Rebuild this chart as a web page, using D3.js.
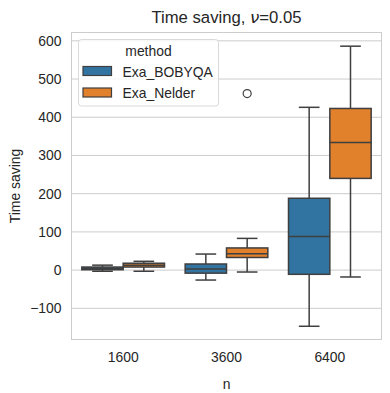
<!DOCTYPE html>
<html>
  <head>
    <meta charset="utf-8">
    <title>Time saving boxplot</title>
    <script src="https://cdn.jsdelivr.net/npm/d3@7"></script>
    <style>
      body { margin: 0; background: #fff; }
      text { font-family: "Liberation Sans", Arial, sans-serif; fill: #262626; }
    </style>
  </head>
  <body>
  <script>

    // categories on x, one box per method inside each
    var categories = ["1600", "3600", "6400"];
    var methods = ["Exa_BOBYQA", "Exa_Nelder"];
    var colors = ["#3274a1", "#e1812c"];

    // box summaries, one value per category
    var whiskerLow  = { "Exa_BOBYQA": [-3, -26, -147], "Exa_Nelder": [-3, -5, -18] };
    var q1          = { "Exa_BOBYQA": [1, -8, -11],    "Exa_Nelder": [8, 33, 240] };
    var median      = { "Exa_BOBYQA": [4, 3, 88],      "Exa_Nelder": [13, 43, 334] };
    var q3          = { "Exa_BOBYQA": [8, 16, 188],    "Exa_Nelder": [18, 58, 423] };
    var whiskerHigh = { "Exa_BOBYQA": [13, 42, 426],   "Exa_Nelder": [23, 83, 586] };

    var outliers = [ { n: "3600", method: "Exa_Nelder", value: 462 } ];

    var yTicks = [-100, 0, 100, 200, 300, 400, 500, 600];

    var width = 390, height = 393;
    var plotLeft = 71.5, plotRight = 381.5, plotTop = 32.5, plotBottom = 339.5;
    var lineColor = "#3f3f3f";

    var svg = d3.select("body").append("svg")
        .attr("width", width)
        .attr("height", height);

    svg.append("rect").attr("width", width).attr("height", height).attr("fill", "#fff");

    var x = d3.scaleBand().domain(categories).range([plotLeft, plotRight]).padding(0);
    var xInner = d3.scaleBand().domain(methods)
        .range([0.1 * x.bandwidth(), 0.9 * x.bandwidth()]).padding(0);
    var y = d3.scaleLinear().domain([-181.6, 621.8]).range([plotBottom, plotTop]);

    // grid
    svg.append("g").selectAll("line")
        .data(yTicks)
        .enter().append("line")
        .attr("x1", plotLeft).attr("x2", plotRight)
        .attr("y1", function (d) { return y(d); })
        .attr("y2", function (d) { return y(d); })
        .attr("stroke", "#cccccc").attr("stroke-width", 1);

    // frame
    svg.append("rect")
        .attr("x", plotLeft).attr("y", plotTop)
        .attr("width", plotRight - plotLeft).attr("height", plotBottom - plotTop)
        .attr("fill", "none").attr("stroke", "#cccccc").attr("stroke-width", 1);

    // y axis
    var yAxis = svg.append("g")
        .attr("transform", "translate(" + plotLeft + ",0)")
        .call(d3.axisLeft(y).tickValues(yTicks).tickSize(0).tickPadding(10)
              .tickFormat(function (d) { return d < 0 ? "\u2212" + Math.abs(d) : d; }));
    yAxis.select(".domain").remove();
    yAxis.selectAll("text").attr("font-size", "13.9px")
        .attr("font-family", "Liberation Sans, Arial, sans-serif").attr("fill", "#262626");

    // x axis
    var xAxis = svg.append("g")
        .attr("transform", "translate(0," + plotBottom + ")")
        .call(d3.axisBottom(x).tickSize(0).tickPadding(12.5));
    xAxis.select(".domain").remove();
    xAxis.selectAll("text").attr("font-size", "13.9px")
        .attr("font-family", "Liberation Sans, Arial, sans-serif").attr("fill", "#262626");

    // labels
    svg.append("text").attr("x", (plotLeft + plotRight) / 2).attr("y", 389)
        .attr("text-anchor", "middle").attr("font-size", "13.9px").text("n");
    svg.append("text")
        .attr("transform", "translate(19.5," + (plotTop + plotBottom) / 2 + ") rotate(-90)")
        .attr("text-anchor", "middle").attr("font-size", "13.9px").text("Time saving");

    var title = svg.append("text").attr("x", (plotLeft + plotRight) / 2).attr("y", 22.5)
        .attr("text-anchor", "middle").attr("font-size", "16.7px");
    title.append("tspan").text("Time saving, ");
    title.append("tspan").attr("font-style", "italic")
        .attr("font-family", "DejaVu Sans").text("\u03bd");
    title.append("tspan").text("=0.05");

    // boxes
    var boxes = [];
    methods.forEach(function (m, mi) {
      categories.forEach(function (c, ci) {
        boxes.push({ n: c, method: m, color: colors[mi],
                     lo: whiskerLow[m][ci], q1: q1[m][ci], med: median[m][ci],
                     q3: q3[m][ci], hi: whiskerHigh[m][ci] });
      });
    });

    var bw = xInner.bandwidth();
    var g = svg.append("g").selectAll("g")
        .data(boxes)
        .enter().append("g")
        .attr("transform", function (d) { return "translate(" + (x(d.n) + xInner(d.method)) + ",0)"; });

    g.append("line")
        .attr("x1", bw / 2).attr("x2", bw / 2)
        .attr("y1", function (d) { return y(d.hi); })
        .attr("y2", function (d) { return y(d.q3); })
        .attr("stroke", lineColor).attr("stroke-width", 1.5);
    g.append("line")
        .attr("x1", bw / 2).attr("x2", bw / 2)
        .attr("y1", function (d) { return y(d.q1); })
        .attr("y2", function (d) { return y(d.lo); })
        .attr("stroke", lineColor).attr("stroke-width", 1.5);
    g.append("line")
        .attr("x1", bw / 4).attr("x2", bw * 3 / 4)
        .attr("y1", function (d) { return y(d.hi); })
        .attr("y2", function (d) { return y(d.hi); })
        .attr("stroke", lineColor).attr("stroke-width", 1.5);
    g.append("line")
        .attr("x1", bw / 4).attr("x2", bw * 3 / 4)
        .attr("y1", function (d) { return y(d.lo); })
        .attr("y2", function (d) { return y(d.lo); })
        .attr("stroke", lineColor).attr("stroke-width", 1.5);
    g.append("rect")
        .attr("x", 0).attr("width", bw)
        .attr("y", function (d) { return y(d.q3); })
        .attr("height", function (d) { return y(d.q1) - y(d.q3); })
        .attr("fill", function (d) { return d.color; })
        .attr("stroke", lineColor).attr("stroke-width", 1.5);
    g.append("line")
        .attr("x1", 0).attr("x2", bw)
        .attr("y1", function (d) { return y(d.med); })
        .attr("y2", function (d) { return y(d.med); })
        .attr("stroke", lineColor).attr("stroke-width", 1.5);

    // fliers
    svg.append("g").selectAll("circle")
        .data(outliers)
        .enter().append("circle")
        .attr("cx", function (d) { return x(d.n) + xInner(d.method) + bw / 2; })
        .attr("cy", function (d) { return y(d.value); })
        .attr("r", 4)
        .attr("fill", "none").attr("stroke", lineColor).attr("stroke-width", 1.2);

    // legend
    var lg = svg.append("g");
    lg.append("rect")
        .attr("x", 78.5).attr("y", 39.5).attr("width", 140).attr("height", 66.5)
        .attr("rx", 3).attr("fill", "#fff").attr("fill-opacity", 0.8)
        .attr("stroke", "#d9d9d9").attr("stroke-width", 1);
    lg.append("text").attr("x", 148.5).attr("y", 56)
        .attr("text-anchor", "middle").attr("font-size", "13.9px").text("method");
    methods.forEach(function (m, i) {
      lg.append("rect")
          .attr("x", 83).attr("y", 66.5 + i * 21.5).attr("width", 28.5).attr("height", 9)
          .attr("fill", colors[i]).attr("stroke", lineColor).attr("stroke-width", 1.2);
      lg.append("text").attr("x", 122.5).attr("y", 76.5 + i * 21.5)
          .attr("font-size", "13.9px").text(m);
    });

  </script>
  </body>
</html>
